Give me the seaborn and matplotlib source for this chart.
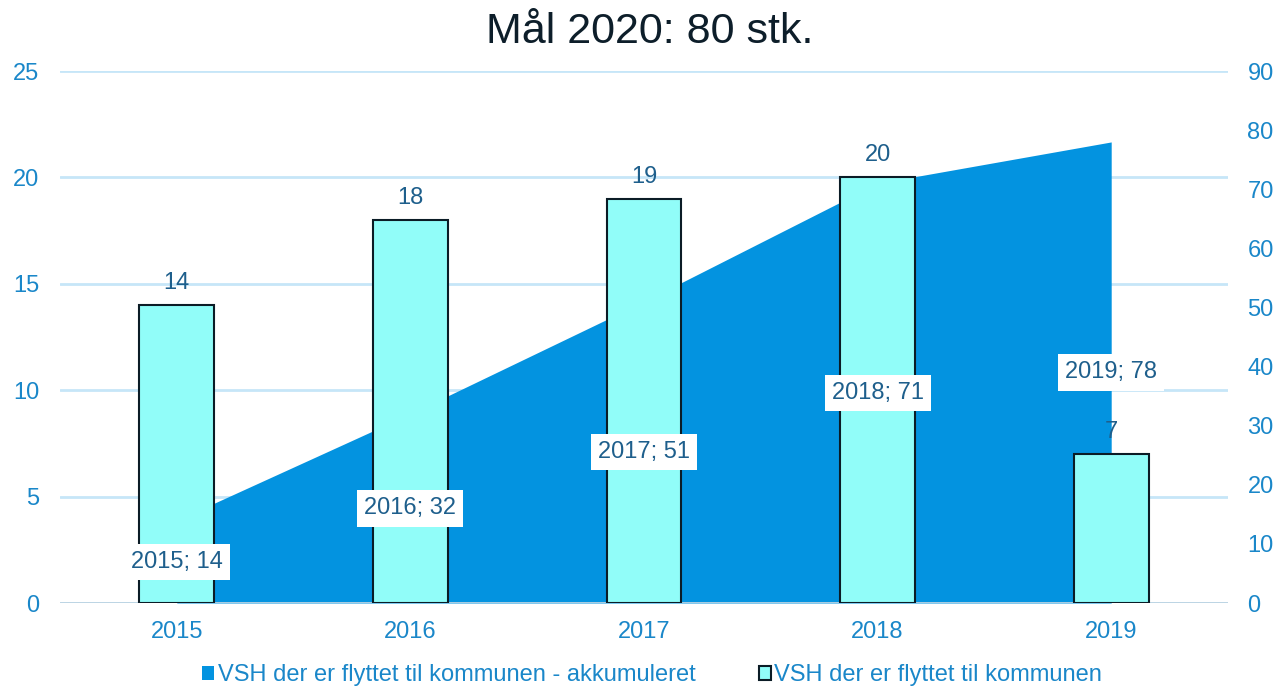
import matplotlib
matplotlib.use('Agg')
import matplotlib.pyplot as plt
import seaborn as sns
from matplotlib.patches import Patch

years = ['2015', '2016', '2017', '2018', '2019']
yearly = [14, 18, 19, 20, 7]
cumulative = [14, 32, 51, 71, 78]
left_ticks = [0, 5, 10, 15, 20, 25]
right_ticks = [0, 10, 20, 30, 40, 50, 60, 70, 80, 90]
title = 'Mål 2020: 80 stk.'
series_cum = 'VSH der er flyttet til kommunen - akkumuleret'
series_year = 'VSH der er flyttet til kommunen'

sns.set_theme(style='white')
plt.rcParams['font.family'] = ['Liberation Sans', 'DejaVu Sans']

AREA = '#0393E0'
BAR = '#91FDF9'
EDGE = '#0B1C26'
TICK = '#1A87C9'
LABEL = '#1E5F8C'
GRID = '#C6E6F8'
TITLE = '#0D1E2A'
FS = 17

fig = plt.figure(figsize=(12.79, 6.95), dpi=100)
rect = [60 / 1279, 1 - 603 / 695, (1228 - 60) / 1279, (603 - 71) / 695]

ax_bg = fig.add_axes(rect)
ax_area = ax_bg.twinx()
ax_bar = fig.add_axes(rect, sharex=ax_bg)

ax_bg.set_zorder(0)
ax_area.set_zorder(1)
ax_bar.set_zorder(2)
ax_area.patch.set_visible(False)
ax_bar.patch.set_visible(False)

# background: grid + left axis
ax_bg.set_ylim(0, 25)
ax_bg.set_yticks(left_ticks)
ax_bg.yaxis.grid(True, color=GRID, linewidth=2)
ax_bg.tick_params(axis='y', length=0, labelsize=FS, labelcolor=TICK, pad=15)
ax_bg.tick_params(axis='x', labelbottom=False, length=0)
for s in ax_bg.spines.values():
    s.set_visible(False)

# area on the right axis
xs = list(range(len(years)))
ax_area.fill_between(xs, cumulative, color=AREA, linewidth=0)
ax_area.set_ylim(0, 90)
ax_area.set_yticks(right_ticks)
ax_area.tick_params(axis='y', length=0, labelsize=FS, labelcolor=TICK, pad=14)
ax_area.tick_params(axis='x', labelbottom=False, length=0)
for s in ax_area.spines.values():
    s.set_visible(False)

# bars
sns.barplot(x=years, y=yearly, ax=ax_bar, color=BAR, edgecolor=EDGE,
            linewidth=1.5, width=0.32, saturation=1)
ax_bar.set_xlim(-0.5, len(years) - 0.5)
ax_bar.set_ylim(0, 25)
ax_bar.set_ylabel('')
ax_bar.set_xlabel('')
ax_bar.tick_params(axis='y', left=False, labelleft=False)
ax_bar.tick_params(axis='x', length=0, labelsize=FS, labelcolor=TICK, pad=13)
for s in ax_bar.spines.values():
    s.set_visible(False)
ax_bar.axhline(0, color='#BCD3E2', linewidth=2, zorder=0.5)
for c in ax_bar.containers:
    ax_bar.bar_label(c, padding=8, color=LABEL, fontsize=FS)

# area data labels (placed on top of bars)
for i, (yr, v) in enumerate(zip(years, cumulative)):
    ax_bar.text(i, v / 2, f'{yr}; {v}', transform=ax_area.transData,
                ha='center', va='center', fontsize=FS, color=LABEL, zorder=5,
                bbox=dict(boxstyle='square,pad=0.3', fc='white', ec='none'))

fig.text(0.508, 1 - 32 / 695, title, ha='center', va='center',
         fontsize=31, color=TITLE)

handles = [Patch(facecolor=AREA, edgecolor='none'),
           Patch(facecolor=BAR, edgecolor=EDGE, linewidth=1.5)]
fig.legend(handles, [series_cum, series_year], loc='lower center',
           bbox_to_anchor=(0.51, -0.018), ncol=2, frameon=False,
           handlelength=0.5, handleheight=0.5, handletextpad=0.15,
           columnspacing=2.7, fontsize=FS, labelcolor=TICK)

fig.savefig('out.png', dpi=100)
